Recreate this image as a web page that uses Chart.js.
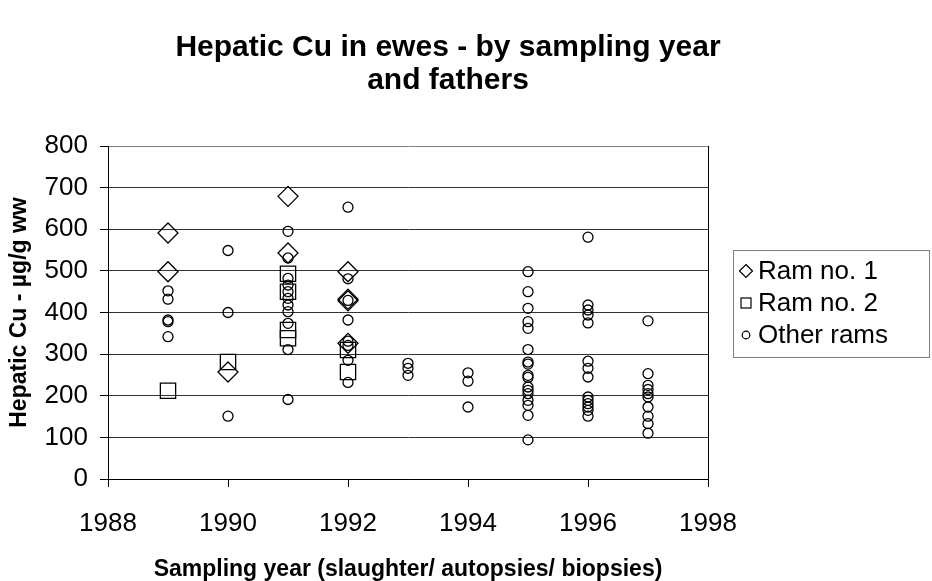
<!DOCTYPE html>
<html>
<head>
<meta charset="utf-8">
<title>Hepatic Cu in ewes</title>
<script src="https://cdn.jsdelivr.net/npm/chart.js@4.4.1/dist/chart.umd.min.js"></script>
<style>
  html, body { margin: 0; padding: 0; background: #fff; }
  #wrap { position: relative; width: 932px; height: 581px; }
</style>
</head>
<body>
<div id="wrap"><canvas id="cuChart" width="932" height="581"></canvas></div>
<script>
// Texts
const titleLines = ['Hepatic Cu in ewes - by sampling year', 'and fathers'];
const xAxisTitle = 'Sampling year (slaughter/ autopsies/ biopsies)';
const yAxisTitle = 'Hepatic Cu - µg/g ww';
const seriesNames = ['Ram no. 1', 'Ram no. 2', 'Other rams'];

// Tick labels
const yearTicks = [1988, 1990, 1992, 1994, 1996, 1998];
const cuTicks = [0, 100, 200, 300, 400, 500, 600, 700, 800];

// Ram no. 1 (diamonds)
const ram1Years = [1989, 1989, 1990, 1991, 1991, 1992, 1992, 1992, 1992];
const ram1Cu    = [591, 498, 257, 679, 543, 498, 428, 432, 326];

// Ram no. 2 (squares)
const ram2Years = [1989, 1990, 1991, 1991, 1991, 1991, 1992, 1992];
const ram2Cu    = [212, 281, 493, 450, 358, 338, 310, 257];

// Other rams (circles)
const otherYears = [
  1989, 1989, 1989, 1989, 1989,
  1990, 1990, 1990,
  1991, 1991, 1991, 1991, 1991, 1991, 1991, 1991, 1991, 1991, 1991,
  1992, 1992, 1992, 1992, 1992, 1992, 1992, 1992,
  1993, 1993, 1993,
  1994, 1994, 1994,
  1995, 1995, 1995, 1995, 1995, 1995, 1995, 1995, 1995, 1995, 1995, 1995, 1995, 1995, 1995, 1995, 1995,
  1996, 1996, 1996, 1996, 1996, 1996, 1996, 1996, 1996, 1996, 1996, 1996, 1996, 1996,
  1997, 1997, 1997, 1997, 1997, 1997, 1997, 1997, 1997, 1997
];
const otherCu = [
  452, 432, 382, 378, 342,
  549, 400, 151,
  595, 531, 482, 466, 450, 434, 418, 402, 374, 311, 191,
  653, 481, 429, 382, 331, 321, 285, 232,
  278, 266, 249,
  255, 235, 173,
  498, 450, 410, 378, 362, 311, 281, 276, 249, 244, 221, 213, 205, 189, 177, 153, 94,
  581, 418, 406, 394, 375, 283, 266, 245, 197, 189, 181, 173, 165, 151,
  380, 253, 225, 215, 205, 197, 173, 151, 133, 110
];

const FONT = '"Liberation Sans", Arial, Helvetica, sans-serif';
Chart.defaults.font.family = FONT;
Chart.defaults.color = '#000';

function toPoints(xs, ys) {
  return xs.map((x, i) => ({ x: x, y: ys[i] }));
}

// Title, right frame edge and legend box drawn on top of the chart
const decorations = {
  id: 'decorations',
  afterDraw(chart) {
    const ctx = chart.ctx;
    const area = chart.chartArea;
    ctx.save();

    // right edge of the plot
    ctx.strokeStyle = '#000';
    ctx.lineWidth = 1;
    ctx.beginPath();
    ctx.moveTo(Math.round(area.right) + 0.5, area.top);
    ctx.lineTo(Math.round(area.right) + 0.5, area.bottom);
    ctx.stroke();

    // title
    ctx.fillStyle = '#000';
    ctx.font = 'bold 30px ' + FONT;
    ctx.textAlign = 'center';
    ctx.textBaseline = 'alphabetic';
    titleLines.forEach((line, i) => ctx.fillText(line, 448, 56 + i * 33));

    // legend
    const box = { left: 733, top: 250, width: 196, height: 107 };
    const rowY = [271, 303, 335];
    const mx = 746;
    ctx.strokeStyle = '#808080';
    ctx.lineWidth = 1;
    ctx.strokeRect(box.left + 0.5, box.top + 0.5, box.width, box.height);

    ctx.strokeStyle = '#000';
    ctx.lineWidth = 1.2;
    // diamond
    ctx.beginPath();
    ctx.moveTo(mx, rowY[0] - 6.5);
    ctx.lineTo(mx + 6.5, rowY[0]);
    ctx.lineTo(mx, rowY[0] + 6.5);
    ctx.lineTo(mx - 6.5, rowY[0]);
    ctx.closePath();
    ctx.stroke();
    // square
    ctx.strokeRect(mx - 5, rowY[1] - 5, 10, 10);
    // circle
    ctx.beginPath();
    ctx.arc(mx, rowY[2], 3.8, 0, Math.PI * 2);
    ctx.stroke();

    ctx.font = '26px ' + FONT;
    ctx.textAlign = 'left';
    ctx.textBaseline = 'middle';
    seriesNames.forEach((name, i) => ctx.fillText(name, 758, rowY[i] + 1));

    ctx.restore();
  }
};

const markerBase = {
  showLine: false,
  borderColor: '#000',
  backgroundColor: 'rgba(0,0,0,0)',
  borderWidth: 1.3
};

new Chart(document.getElementById('cuChart'), {
  type: 'scatter',
  data: {
    datasets: [
      Object.assign({}, markerBase, {
        label: seriesNames[0],
        data: toPoints(ram1Years, ram1Cu),
        pointStyle: 'rectRot',
        pointRadius: 10,
        pointHoverRadius: 10
      }),
      Object.assign({}, markerBase, {
        label: seriesNames[1],
        data: toPoints(ram2Years, ram2Cu),
        pointStyle: 'rect',
        pointRadius: 10.8,
        pointHoverRadius: 10.8
      }),
      Object.assign({}, markerBase, {
        label: seriesNames[2],
        data: toPoints(otherYears, otherCu),
        pointStyle: 'circle',
        pointRadius: 5,
        pointHoverRadius: 5
      })
    ]
  },
  options: {
    responsive: false,
    animation: false,
    layout: {
      padding: { top: 146, left: 0, right: 224, bottom: 0 }
    },
    plugins: {
      legend: { display: false },
      title: { display: false },
      tooltip: { enabled: false }
    },
    scales: {
      x: {
        type: 'linear',
        min: 1988,
        max: 1998,
        afterBuildTicks: axis => { axis.ticks = yearTicks.map(v => ({ value: v })); },
        afterFit: axis => { axis.height = 581 - 479; },
        ticks: {
          font: { size: 26 },
          color: '#000',
          padding: 21,
          maxRotation: 0,
          callback: v => String(v)
        },
        grid: {
          drawOnChartArea: false,
          drawTicks: true,
          tickLength: 8,
          tickColor: '#000'
        },
        border: { color: '#000', width: 1 },
        title: {
          display: true,
          text: xAxisTitle,
          font: { size: 23, weight: 'bold', lineHeight: 1 },
          color: '#000',
          padding: { top: 0, bottom: 0 }
        }
      },
      y: {
        min: 0,
        max: 800,
        afterBuildTicks: axis => { axis.ticks = cuTicks.map(v => ({ value: v })); },
        afterFit: axis => { axis.width = 108; },
        ticks: {
          font: { size: 26 },
          color: '#000',
          padding: 12
        },
        grid: {
          color: c => (c.tick && c.tick.value === 800 ? '#808080' : '#333'),
          lineWidth: 1,
          drawTicks: true,
          tickLength: 8,
          tickColor: '#000'
        },
        border: { color: '#000', width: 1 },
        title: {
          display: true,
          text: yAxisTitle,
          font: { size: 23, weight: 'bold' },
          color: '#000',
          padding: { top: 6, bottom: 0 }
        }
      }
    }
  },
  plugins: [decorations]
});
</script>
</body>
</html>
